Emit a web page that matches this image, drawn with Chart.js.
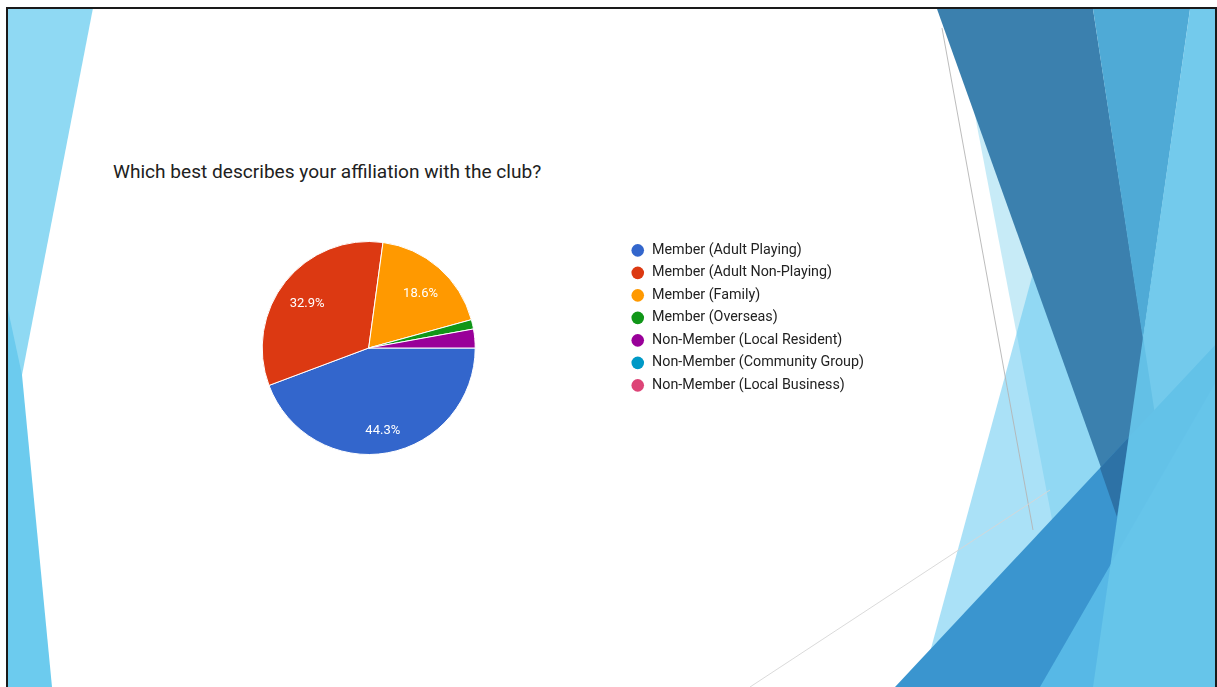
<!DOCTYPE html>
<html>
<head>
<meta charset="utf-8">
<script src="https://cdn.jsdelivr.net/npm/chart.js@4.4.1/dist/chart.umd.min.js"></script>
<style>
  html, body { margin: 0; padding: 0; background: #fff; }
  body { width: 1217px; height: 687px; position: relative; overflow: hidden; }
  #slide { position: absolute; left: 0; top: 0; }
  #pie { position: absolute; left: 115px; top: 235px; }
</style>
</head>
<body>
<svg id="slide" width="1217" height="687" xmlns="http://www.w3.org/2000/svg">
  <!-- left facets -->
  <polygon points="7,8 93,8 22,375 7,420" fill="#8fd9f3"/>
  <polygon points="7,305 22,375 52,687 7,687" fill="#6ccbee"/>
  <!-- right facets -->
  <polygon points="973,105 1054,530 1130,520" fill="rgba(144,215,240,0.5)"/>
  <polygon points="1036,262 1140,560 917,700" fill="rgba(100,200,240,0.55)"/>
  <line x1="942" y1="28" x2="1033" y2="530" stroke="#b4b4b4" stroke-width="0.9"/>
  <line x1="750" y1="687" x2="1050" y2="490" stroke="#d6d6d6" stroke-width="0.9"/>
  <polygon points="937,9 1093,9 1165,480 1118,515" fill="#3b80ae"/>
  <polygon points="1093,9 1190,9 1143,340" fill="#4faad6"/>
  <polygon points="895,687 1217,343 1217,687" fill="#3a95cf"/>
  <polygon points="1100,468 1129,437 1117,517" fill="#2d72a6"/>
  <polygon points="1040,687 1217,380 1217,687" fill="rgba(100,200,240,0.7)"/>
  <polygon points="1190,9 1217,9 1217,687 1093,687" fill="rgba(103,198,234,0.92)"/>
  <rect x="7" y="8" width="1209" height="690" fill="none" stroke="#1a1a1a" stroke-width="2"/>
  <text x="113" y="178" font-family="Roboto" font-size="19.1" fill="#212121">Which best describes your affiliation with the club?</text>
</svg>
<canvas id="pie"></canvas>
<script>
// Survey answers
const categories = [
  'Member (Adult Playing)',
  'Member (Adult Non-Playing)',
  'Member (Family)',
  'Member (Overseas)',
  'Non-Member (Local Resident)',
  'Non-Member (Community Group)',
  'Non-Member (Local Business)'
];
const responses = [31, 23, 13, 1, 2, 0, 0];
const sliceColors = ['#3366cc', '#dc3912', '#ff9900', '#109618', '#990099', '#0099c6', '#dd4477'];

const LEGEND_FONT = { family: 'Roboto', size: 14.3 };
const LEGEND_PAD = 8.2;
const LEGEND_BOX = 15.7;
const PIE_AREA_WIDTH = 506.3;

// size the canvas so the legend sits to the right of the pie area
const probe = document.createElement('canvas').getContext('2d');
probe.font = LEGEND_FONT.size + 'px ' + LEGEND_FONT.family;
const widest = Math.max(...categories.map(c => probe.measureText(c).width));
const legendWidth = LEGEND_PAD + LEGEND_BOX + LEGEND_FONT.size / 2 + widest + 10;

const canvas = document.getElementById('pie');
canvas.width = Math.round(PIE_AREA_WIDTH + legendWidth);
canvas.height = 226;
canvas.style.width = canvas.width + 'px';
canvas.style.height = canvas.height + 'px';

// percentage text inside the larger slices
const sliceLabels = {
  id: 'sliceLabels',
  afterDatasetsDraw(chart) {
    const ctx = chart.ctx;
    const values = chart.data.datasets[0].data;
    const total = values.reduce((a, b) => a + b, 0);
    const meta = chart.getDatasetMeta(0);
    ctx.save();
    ctx.fillStyle = '#ffffff';
    ctx.font = '13px Roboto';
    ctx.textAlign = 'center';
    ctx.textBaseline = 'middle';
    meta.data.forEach((arc, i) => {
      const share = values[i] / total;
      if (share < 0.05) return;
      const p = arc.getProps(['x', 'y', 'startAngle', 'endAngle', 'outerRadius'], true);
      const mid = (p.startAngle + p.endAngle) / 2;
      const r = p.outerRadius * 0.74;
      ctx.fillText((share * 100).toFixed(1) + '%', p.x + Math.cos(mid) * r, p.y + Math.sin(mid) * r + 5);
    });
    ctx.restore();
  }
};

const baseLegendLabels = Chart.overrides.doughnut.plugins.legend.labels.generateLabels;

new Chart(canvas, {
  type: 'pie',
  data: {
    labels: categories,
    datasets: [{
      data: responses,
      backgroundColor: sliceColors,
      borderColor: '#ffffff',
      borderWidth: 1
    }]
  },
  options: {
    responsive: false,
    animation: false,
    devicePixelRatio: 1,
    radius: 106.5,
    rotation: 90,
    layout: { padding: 0 },
    plugins: {
      legend: {
        position: 'right',
        align: 'start',
        labels: {
          usePointStyle: true,
          pointStyle: 'circle',
          boxWidth: LEGEND_BOX,
          boxHeight: 8.9,
          padding: LEGEND_PAD,
          color: '#222222',
          font: LEGEND_FONT,
          generateLabels(chart) {
            return baseLegendLabels(chart).map(item => Object.assign(item, { lineWidth: 0 }));
          }
        }
      },
      tooltip: { enabled: false },
      title: { display: false }
    }
  },
  plugins: [sliceLabels]
});
</script>
</body>
</html>
